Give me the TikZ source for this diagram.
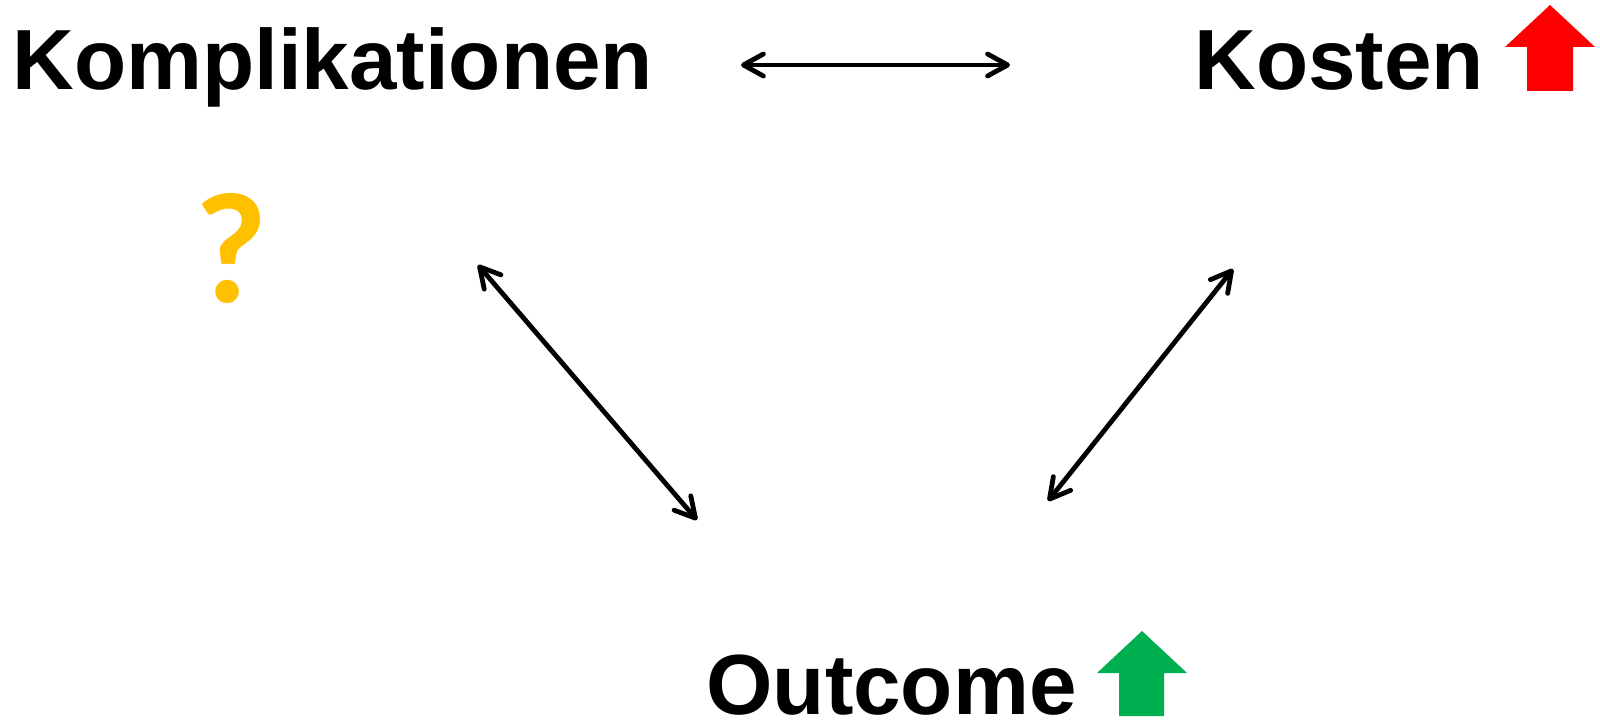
\documentclass[tikz,border=0pt]{standalone}
\usepackage{fontspec}
\setmainfont{Liberation Sans}
\newfontfamily\qfont{Carlito}
\usetikzlibrary{arrows.meta}
\definecolor{qgold}{HTML}{FFC000}
\definecolor{upred}{HTML}{FF0000}
\definecolor{upgreen}{HTML}{00B050}
\begin{document}
\begin{tikzpicture}[x=0.5pt,y=-0.5pt,
  label/.style={inner sep=0pt,anchor=base west,text depth=0pt,font=\fontsize{42.7pt}{50pt}\selectfont\bfseries},
  link/.style={line width=2.4pt,line cap=round,{Straight Barb[length=10pt,width=11pt,line cap=round,line join=round]}-{Straight Barb[length=10pt,width=11pt,line cap=round,line join=round]}}
]
\useasboundingbox (0,0) rectangle (1600,721);
\fill[white] (0,0) rectangle (1600,721);
% text nodes
\node[label] (komp) at (12,90) {Komplikationen};
\node[label] (kost) at (1194,90) {Kosten};
\node[label] (outc) at (706,714) {Outcome};
\node[inner sep=0pt,anchor=base,text depth=0pt,text=qgold,font=\qfont\fontsize{79pt}{84pt}\selectfont\bfseries] (qm) at (231,303) {?};
% connector end points
\coordinate (kA) at (741,65);
\coordinate (cA) at (1010,65);
\coordinate (kB) at (478,265);
\coordinate (oB) at (697,520);
\coordinate (cC) at (1233,269);
\coordinate (oC) at (1048,501);
\draw[link] (kA) -- (cA);
\draw[link] (kB) -- (oB);
\draw[link] (cC) -- (oC);
% up arrows
\fill[upred] (1550,5) -- (1595,47) -- (1573,47) -- (1573,91) -- (1527,91) -- (1527,47) -- (1505,47) -- cycle;
\fill[upgreen] (1142,631) -- (1187,673) -- (1164,673) -- (1164,716) -- (1119,716) -- (1119,673) -- (1097,673) -- cycle;
\end{tikzpicture}
\end{document}
